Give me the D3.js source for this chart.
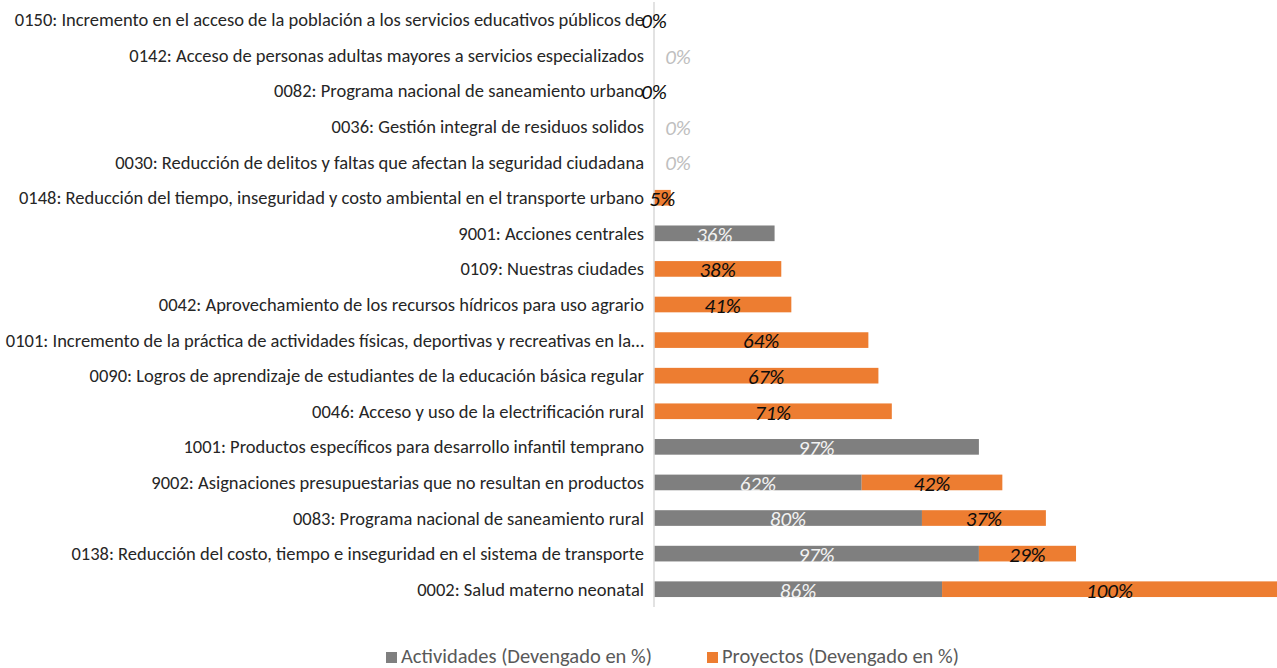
<!DOCTYPE html>
<html>
<head>
<meta charset="utf-8">
<script src="https://cdn.jsdelivr.net/npm/d3@7"></script>
<style>
  body { margin: 0; background: #fff; }
  svg { display: block; }
</style>
</head>
<body>
<svg id="chart" width="1277" height="668"></svg>
<script>
// programas presupuestales, de arriba hacia abajo
let programas = [
  '0150: Incremento en el acceso de la población a los servicios educativos públicos de',
  '0142: Acceso de personas adultas mayores a servicios especializados',
  '0082: Programa nacional de saneamiento urbano',
  '0036: Gestión integral de residuos solidos',
  '0030: Reducción de delitos y faltas que afectan la seguridad ciudadana',
  '0148: Reducción del tiempo, inseguridad y costo ambiental en el transporte urbano',
  '9001: Acciones centrales',
  '0109: Nuestras ciudades',
  '0042: Aprovechamiento de los recursos hídricos para uso agrario',
  '0101: Incremento de la práctica de actividades físicas, deportivas y recreativas en la…',
  '0090: Logros de aprendizaje de estudiantes de la educación básica regular',
  '0046: Acceso y uso de la electrificación rural',
  '1001: Productos específicos para desarrollo infantil temprano',
  '9002: Asignaciones presupuestarias que no resultan en productos',
  '0083: Programa nacional de saneamiento rural',
  '0138: Reducción del costo, tiempo e inseguridad en el sistema de transporte',
  '0002: Salud materno neonatal'
];

// null = sin dato
let actividades = [null, 0, null, 0, 0, null, 36, null, null, null, null, null, 97, 62, 80, 97, 86];
let proyectos   = [0, null, 0, null, null, 5, null, 38, 41, 64, 67, 71, null, 42, 37, 29, 100];

let series = ['Actividades (Devengado en %)', 'Proyectos (Devengado en %)'];
let colores = ['#7f7f7f', '#ed7d31'];

let svg = d3.select('#chart');
let fontFam = "Carlito, Lato, 'Open Sans', sans-serif";

let x0 = 654;
let xScale = d3.scaleLinear().domain([0, 186]).range([x0, 1277]);
let yScale = d3.scaleBand().domain(programas).range([2, 607]).paddingInner(0.56).paddingOuter(0.28);

let rows = programas.map((p, i) => ({
  name: p,
  act: actividades[i],
  proy: proyectos[i]
}));

// category labels
svg.append('g').selectAll('text')
  .data(rows)
  .enter()
  .append('text')
  .attr('x', x0 - 10)
  .attr('y', d => yScale(d.name) + yScale.bandwidth() / 2)
  .attr('dy', '0.35em')
  .attr('text-anchor', 'end')
  .attr('font-family', fontFam)
  .attr('font-size', 18.5)
  .attr('fill', '#262626')
  .text(d => d.name);

// bars
let bars = svg.append('g');
rows.forEach(d => {
  let y = yScale(d.name);
  let h = yScale.bandwidth();
  let a = d.act || 0;
  if (d.act) {
    bars.append('rect')
      .attr('x', xScale(0)).attr('y', y)
      .attr('width', xScale(a) - xScale(0)).attr('height', h)
      .attr('fill', colores[0]);
  }
  if (d.proy) {
    bars.append('rect')
      .attr('x', xScale(a)).attr('y', y)
      .attr('width', xScale(a + d.proy) - xScale(a)).attr('height', h)
      .attr('fill', colores[1]);
  }
});

// axis line
svg.append('line')
  .attr('x1', x0).attr('x2', x0)
  .attr('y1', 2).attr('y2', 607)
  .attr('stroke', '#d9d9d9').attr('stroke-width', 1.5);

// value labels
let labels = svg.append('g')
  .attr('font-family', fontFam)
  .attr('font-style', 'italic')
  .attr('font-size', 21);

rows.forEach(d => {
  let cy = yScale(d.name) + yScale.bandwidth() / 2 + 1;
  let a = d.act || 0;
  if (d.act !== null) {
    let cx = d.act === 0 ? xScale(0) + 24 : (xScale(0) + xScale(a)) / 2;
    labels.append('text')
      .attr('x', cx).attr('y', cy).attr('dy', '0.35em')
      .attr('text-anchor', 'middle')
      .attr('fill', d.act === 0 ? '#bfbfbf' : '#f2f2f2')
      .text(d.act + '%');
  }
  if (d.proy !== null) {
    labels.append('text')
      .attr('x', (xScale(a) + xScale(a + d.proy)) / 2).attr('y', cy).attr('dy', '0.35em')
      .attr('text-anchor', 'middle')
      .attr('fill', '#0d0d0d')
      .text(d.proy + '%');
  }
});

// legend
let legend = svg.append('g')
  .attr('font-family', fontFam)
  .attr('font-size', 20.5)
  .attr('fill', '#595959');
let legX = [386, 707];
series.forEach((s, i) => {
  legend.append('rect')
    .attr('x', legX[i]).attr('y', 652)
    .attr('width', 11).attr('height', 11)
    .attr('fill', colores[i]);
  legend.append('text')
    .attr('x', legX[i] + 15).attr('y', 656).attr('dy', '0.35em')
    .text(s);
});
</script>
</body>
</html>
